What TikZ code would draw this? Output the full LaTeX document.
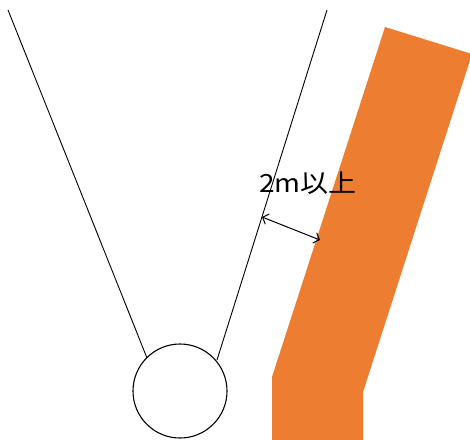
\documentclass[tikz,border=0pt]{standalone}
\usepackage{fontspec}
\newfontfamily\cjk{Noto Sans CJK JP}
\usetikzlibrary{arrows.meta}
\definecolor{wallorange}{HTML}{ED7D31}
\tikzset{
  thinline/.style={draw=black, line width=0.9pt},
  dimarrow/.style={draw=black, line width=1pt, {Straight Barb[length=5pt,width=11pt]}-{Straight Barb[length=5pt,width=11pt]}},
  wall/.style={fill=wallorange, draw=none}
}
\begin{document}
\begin{tikzpicture}[x=1pt,y=-1pt]
\useasboundingbox (0,0) rectangle (470,439);
% wall
\fill[wall] (385,27) -- (472,54) -- (363,392) -- (363,440) -- (272,440) -- (272,377) -- cycle;
% ball and lines
\node[circle, draw, line width=1.1pt, minimum size=94pt, inner sep=0pt] (ball) at (180,391) {};
\coordinate (ltop) at (8,10);
\coordinate (lend) at (147,358);
\coordinate (rtop) at (327,10);
\coordinate (rend) at (217,360);
\draw[thinline] (ltop) -- (lend);
\draw[thinline] (rtop) -- (rend);
% dimension
\coordinate (da) at (262,217);
\coordinate (db) at (320,240);
\draw[dimarrow] (da) -- (db);
\node[font=\cjk\fontsize{25}{25}\selectfont, inner sep=0pt, xscale=1.12] (lbl) at (308,183) {2m以上};
\end{tikzpicture}
\end{document}
